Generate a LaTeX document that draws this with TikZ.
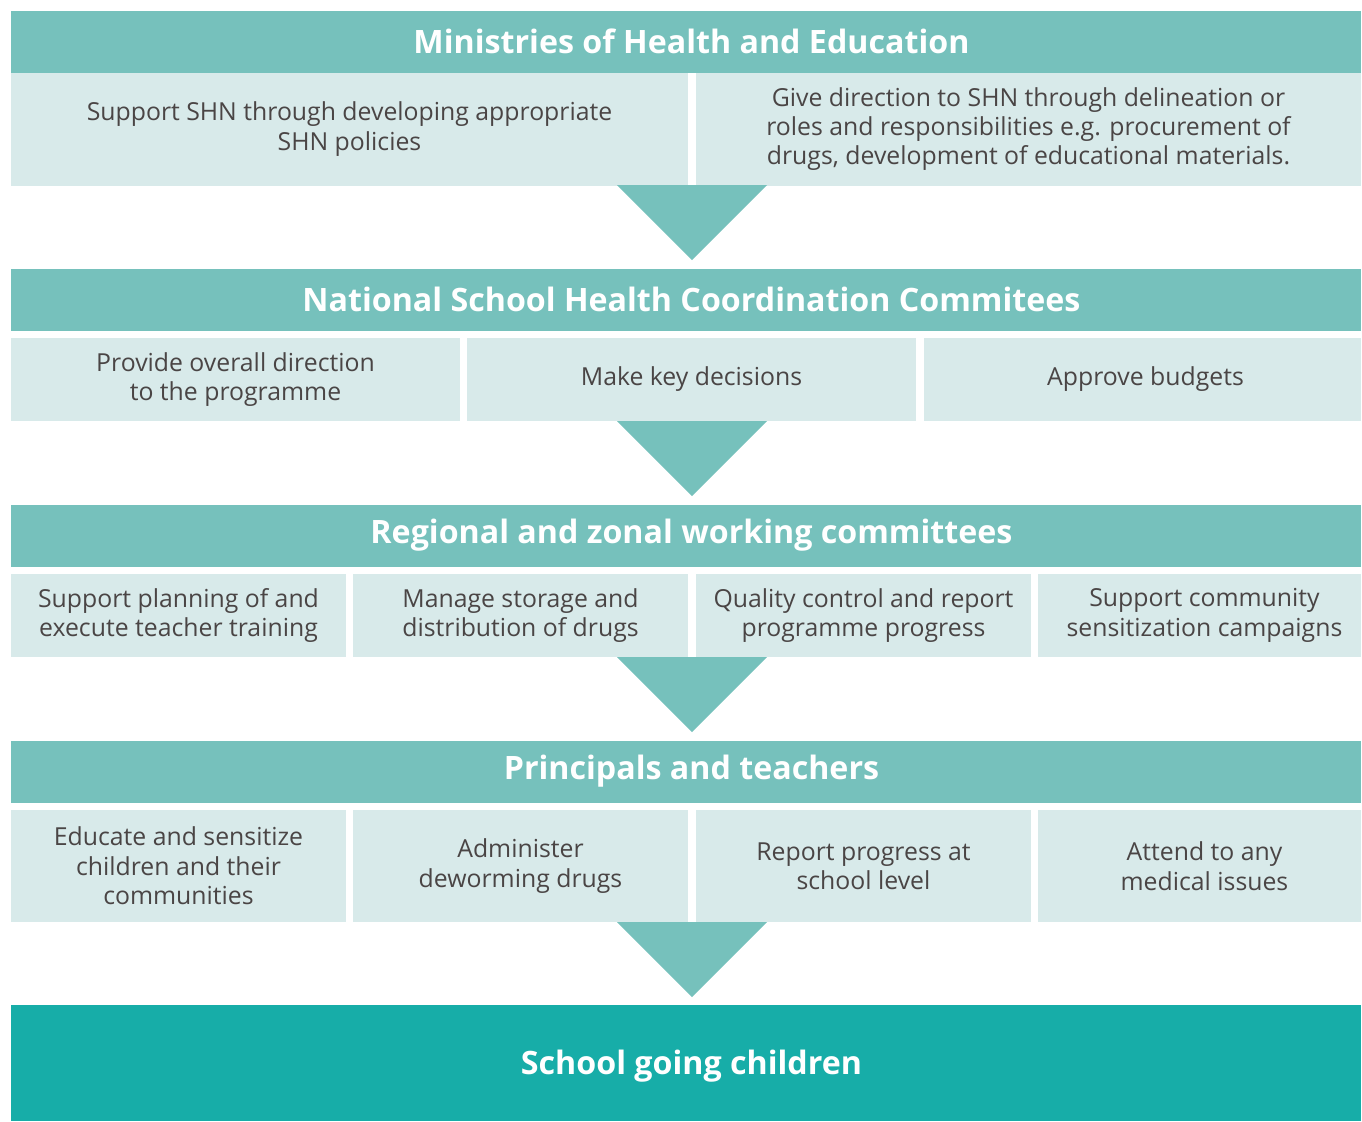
\documentclass[tikz,border=0pt]{standalone}
\usepackage{fontspec}
\setmainfont{Open Sans}
\usetikzlibrary{calc}
\definecolor{headteal}{HTML}{76C1BC}
\definecolor{paleteal}{HTML}{D8EAEA}
\definecolor{deepteal}{HTML}{17ADA8}
\definecolor{bodytext}{HTML}{4A4545}
\tikzset{
  head/.style={fill=headteal, text=white, inner sep=0pt, minimum width=675pt, minimum height=31pt,
    font=\fontsize{16.1}{18}\selectfont\bfseries},
  cell/.style={fill=paleteal, text=bodytext, inner sep=0pt, align=center,
    font=\fontsize{12.4}{14.7}\selectfont},
  pointer/.style={fill=headteal},
}
\newcommand{\hshift}{\hspace*{5.5pt}}
\begin{document}
\begin{tikzpicture}[x=0.5pt,y=-0.5pt]
    \useasboundingbox (0,0) rectangle (1362,1121);
    % level 1
    \node[head] (mh) at (686,41.5) {\hshift Ministries of Health and Education};
    \node[cell, minimum width=338.5pt, minimum height=56.5pt] (mh1) at (349.5,129) {Support SHN through developing appropriate\\SHN policies};
    \node[cell, minimum width=332.5pt, minimum height=56.5pt] (mh2) at (1028.5,129) {Give direction to SHN through delineation or\\roles and responsibilities e.g. procurement of\\drugs, development of educational materials.};
    % level 2
    \node[head] (ns) at (686,299.5) {\hshift National School Health Coordination Commitees};
    \node[cell, minimum width=224.5pt, minimum height=41.5pt] (ns1) at (235.5,379.5) {Provide overall direction\\to the programme};
    \node[cell, minimum width=224.5pt, minimum height=41.5pt] (ns2) at (691.5,379.5) {Make key decisions};
    \node[cell, minimum width=218.5pt, minimum height=41.5pt] (ns3) at (1142.5,379.5) {\hspace*{3pt}Approve budgets};
    % level 3
    \node[head] (rz) at (686,535.5) {\hshift Regional and zonal working committees};
    \node[cell, minimum width=167.5pt, minimum height=41.5pt] (rz1) at (178.5,615.5) {Support planning of and\\execute teacher training};
    \node[cell, minimum width=167.5pt, minimum height=41.5pt] (rz2) at (520.5,615.5) {Manage storage and\\distribution of drugs};
    \node[cell, minimum width=167.5pt, minimum height=41.5pt] (rz3) at (863.5,615.5) {Quality control and report\\programme progress};
    \node[cell, minimum width=161.5pt, minimum height=41.5pt] (rz4) at (1199.5,615.5) {\hspace*{5pt}Support community\\\hspace*{5pt}sensitization campaigns};
    % level 4
    \node[head] (pt) at (686,771.5) {\hshift Principals and teachers};
    \node[cell, minimum width=167.5pt, minimum height=56pt] (pt1) at (178.5,866) {Educate and sensitize\\children and their\\communities};
    \node[cell, minimum width=167.5pt, minimum height=56pt] (pt2) at (520.5,866) {Administer\\deworming drugs};
    \node[cell, minimum width=167.5pt, minimum height=56pt] (pt3) at (863.5,866) {Report progress at\\school level};
    \node[cell, minimum width=161.5pt, minimum height=56pt] (pt4) at (1199.5,866) {\hspace*{5pt}Attend to any\\\hspace*{5pt}medical issues};
    % children
    \node[head, fill=deepteal, minimum height=58pt, text depth=0pt] (sc) at (686,1062.5) {\hshift School going children};
    % pointers
    \fill[pointer] ($(ns.north)+(-69,-83)$) -- ($(ns.north)+(81,-83)$) -- ($(ns.north)+(6,-8)$) -- cycle;
    \fill[pointer] ($(rz.north)+(-69,-83)$) -- ($(rz.north)+(81,-83)$) -- ($(rz.north)+(6,-8)$) -- cycle;
    \fill[pointer] ($(pt.north)+(-69,-83)$) -- ($(pt.north)+(81,-83)$) -- ($(pt.north)+(6,-8)$) -- cycle;
    \fill[pointer] ($(sc.north)+(-69,-82)$) -- ($(sc.north)+(81,-82)$) -- ($(sc.north)+(6,-7)$) -- cycle;
\end{tikzpicture}
\end{document}
